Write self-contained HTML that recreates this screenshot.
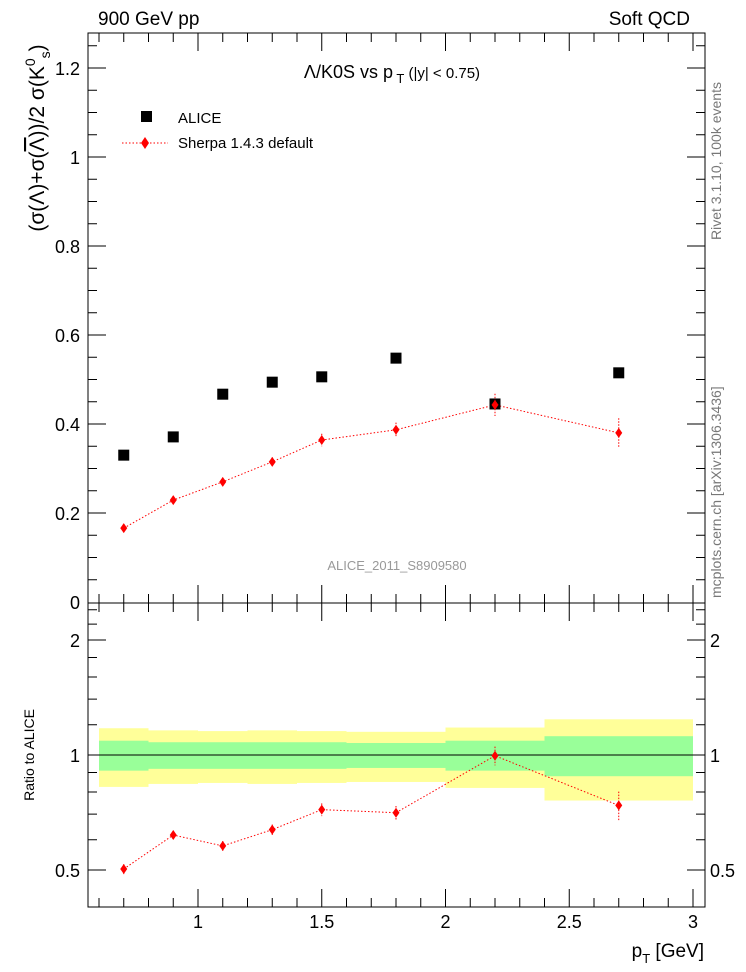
<!DOCTYPE html>
<html><head><meta charset="utf-8"><style>
body{margin:0;background:#fff}
svg{display:block;font-family:"Liberation Sans",sans-serif}
</style></head><body>
<svg id="c" width="746" height="972" viewBox="0 0 746 972">
<g id="bands"></g>
<g id="marks"></g>
<g id="axes" stroke="#000" fill="none"></g>
<g id="labels"></g>
<text x="98" y="25" font-size="19">900 GeV pp</text>
<text x="690" y="25" font-size="19" text-anchor="end">Soft QCD</text>
<text x="392" y="78" font-size="18" text-anchor="middle">Λ/K0S vs p<tspan font-size="13" dy="5"> T</tspan><tspan dy="-5" font-size="15"> (|y| &lt; 0.75)</tspan></text>
<rect x="141" y="111" width="11" height="11" fill="#000"/>
<text x="178" y="123" font-size="15">ALICE</text>
<line x1="122" y1="143" x2="168" y2="143" stroke="red" stroke-dasharray="1.5,2"/>
<path d="M145,137 L149,143 L145,149 L141,143Z" fill="red"/>
<text x="178" y="148" font-size="15">Sherpa 1.4.3 default</text>
<text x="397" y="570" font-size="13" fill="#999" text-anchor="middle">ALICE_2011_S8909580</text>
<text transform="translate(44,138) rotate(-90)" font-size="21" text-anchor="middle">(σ(Λ)+σ(<tspan text-decoration="overline">Λ</tspan>))/2 σ(K<tspan font-size="14" dy="-9">0</tspan><tspan font-size="14" dy="15">s</tspan><tspan dy="-6">)</tspan></text>
<text x="80" y="609" font-size="18" text-anchor="end">0</text>
<text transform="translate(34,755) rotate(-90)" font-size="14" text-anchor="middle">Ratio to ALICE</text>
<text x="704" y="957" font-size="19" text-anchor="end">p<tspan font-size="13" dy="6">T</tspan><tspan dy="-6"> [GeV]</tspan></text>
<text transform="translate(721,240) rotate(-90)" font-size="14" fill="#777">Rivet 3.1.10,  100k events</text>
<text transform="translate(721,598) rotate(-90)" font-size="14" fill="#777">mcplots.cern.ch [arXiv:1306.3436]</text>
</svg>
<script>
const xVals=[0.7,0.9,1.1,1.3,1.5,1.8,2.2,2.7];
const aliceVals=[0.330,0.371,0.467,0.494,0.506,0.548,0.445,0.515];
const sherpaVals=[0.166,0.229,0.270,0.315,0.364,0.387,0.443,0.380];
const sherpaErr=[0.005,0.006,0.008,0.010,0.014,0.016,0.025,0.033];
const binEdges=[0.6,0.8,1.0,1.2,1.4,1.6,2.0,2.4,3.0];
const totErr=[0.175,0.16,0.155,0.16,0.155,0.15,0.18,0.24];
const statErr=[0.09,0.08,0.08,0.08,0.08,0.075,0.09,0.12];
const xTicks=[1,1.5,2,2.5,3];
const yTicks=[0.2,0.4,0.6,0.8,1,1.2];
const rTicks=[0.5,1,2];
const L=88,R=705,T=33,MB=603,RB=907;
const X=p=>198+(p-1)*247.5;
const Y=v=>602-v*445;
const RY=r=>755-Math.log2(r)*115;
const NS="http://www.w3.org/2000/svg";
function mk(tag,parent,attrs){const e=document.createElementNS(NS,tag);for(const k in attrs)e.setAttribute(k,attrs[k]);document.getElementById(parent).appendChild(e);return e;}
for(let i=0;i<totErr.length;i++){
 const x1=Math.max(X(binEdges[i]),L+10),x2=Math.min(X(binEdges[i+1]),693);
 let e=mk('rect','bands',{x:x1,y:RY(1+totErr[i]),width:x2-x1,height:RY(1-totErr[i])-RY(1+totErr[i]),fill:'#ffff99'});
 
 
 e=mk('rect','bands',{x:x1,y:RY(1+statErr[i]),width:x2-x1,height:RY(1-statErr[i])-RY(1+statErr[i]),fill:'#99ff99'});
 
 
}
let ln=mk('line','bands',{x1:L+10,x2:693,y1:RY(1),y2:RY(1),stroke:'#000'});


const sp=xVals.map((x,i)=>X(x)+','+Y(sherpaVals[i])).join(' ');
let pl=mk('polyline','marks',{points:sp,fill:'none',stroke:'red','stroke-dasharray':'1.5,2'});


const ratio=sherpaVals.map((s,i)=>s/aliceVals[i]);
const rp=xVals.map((x,i)=>X(x)+','+RY(ratio[i])).join(' ');
pl=mk('polyline','marks',{points:rp,fill:'none',stroke:'red','stroke-dasharray':'1.5,2'});


function diamond(cx,cy,e1,e2,name){
 let g=mk('path','marks',{d:`M${cx},${e1}V${e2}`,stroke:'red','stroke-dasharray':'1.5,1.5'});
 
 
 g=mk('path','marks',{d:`M${cx},${cy-5}L${cx+3.5},${cy}L${cx},${cy+5}L${cx-3.5},${cy}Z`,fill:'red'});
 
 
}
xVals.forEach((x,i)=>{
 const r=mk('rect','marks',{x:X(x)-5.5,y:Y(aliceVals[i])-5.5,width:11,height:11,fill:'#000'});
 
 
 diamond(X(x),Y(sherpaVals[i]),Y(sherpaVals[i]+sherpaErr[i]),Y(sherpaVals[i]-sherpaErr[i]),'sherpa-point');
 const re=sherpaErr[i]/aliceVals[i];
 diamond(X(x),RY(ratio[i]),RY(ratio[i]+re),RY(ratio[i]-re),'ratio-point');
});
let f=mk('rect','axes',{x:L,y:T,width:R-L,height:MB-T});


f=mk('rect','axes',{x:L,y:MB,width:R-L,height:RB-MB});


let d='';
for(let p=0.6;p<=3.001;p+=0.1){const x=X(p),maj=Math.abs(p*2-Math.round(p*2))<1e-6,l=maj?18:9;
 d+=`M${x},${T}v${l}M${x},${MB}v${-l}M${x},${MB}v${l}M${x},${RB}v${-l}`;}
for(let v=0.05;v<1.28;v+=0.05){const y=Y(v),maj=Math.abs(v*5-Math.round(v*5))<1e-6,l=maj?18:9;
 d+=`M${L},${y}h${l}M${R},${y}h${-l}`;}
[0.4,0.5,0.6,0.7,0.8,0.9,1,1.2,1.4,1.6,1.8,2,2.2,2.4].forEach(r=>{const y=RY(r),maj=(r==0.5||r==1||r==2),l=maj?18:9;
 d+=`M${L},${y}h${l}M${R},${y}h${-l}`;});
f=mk('path','axes',{d:d});


xTicks.forEach(t=>{const e=mk('text','labels',{x:X(t),y:928,'font-size':18,'text-anchor':'middle'});e.textContent=t;
 
 });
yTicks.forEach(t=>{const e=mk('text','labels',{x:80,y:Y(t)+7,'font-size':18,'text-anchor':'end'});e.textContent=t;
 
 });
rTicks.forEach(t=>{let e=mk('text','labels',{x:80,y:RY(t)+7,'font-size':18,'text-anchor':'end'});e.textContent=t;
 
 
 e=mk('text','labels',{x:710,y:RY(t)+7,'font-size':18});e.textContent=t;
 
 });
</script>
</body></html>
